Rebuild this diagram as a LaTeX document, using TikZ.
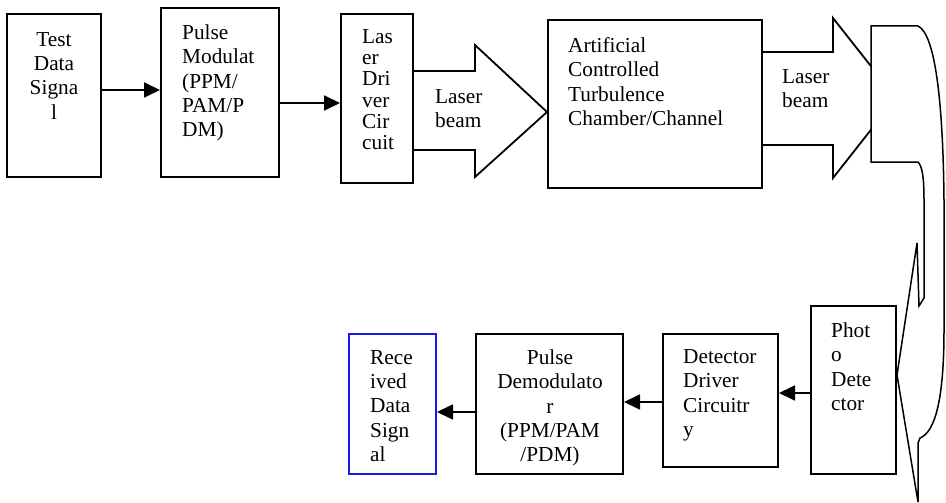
\documentclass[tikz,border=0pt]{standalone}
\usepackage{fontspec}
\setmainfont{Liberation Serif}
\usetikzlibrary{arrows.meta}
\definecolor{boxblue}{RGB}{25,25,235}
\begin{document}
\begin{tikzpicture}[x=1pt,y=-1pt,
  box/.style={draw=black,line width=2pt,inner sep=0pt,fill=white},
  txt/.style={inner sep=0pt,align=left,anchor=north west,font=\fontsize{21.3}{24.3}\selectfont},
  ctxt/.style={inner sep=0pt,align=center,anchor=north,font=\fontsize{21.3}{24.3}\selectfont},
  arr/.style={line width=1.8pt,-{Triangle[length=16pt,width=15pt]}},
  blockarrow/.style={draw=black,line width=1.8pt,fill=white,line join=miter},
  bentshape/.style={draw=black,line width=1.5pt,fill=white,line join=miter}]
\useasboundingbox (0,0) rectangle (946,503);
% top row boxes
\node[box,minimum width=94,minimum height=163] (b1) at (54,95.5) {};
\node[box,minimum width=118,minimum height=169] (b2) at (220,92.5) {};
\node[box,minimum width=72,minimum height=169] (b3) at (377,98.5) {};
\node[box,minimum width=214,minimum height=168] (b4) at (655,104) {};
% bottom row boxes
\node[box,minimum width=85,minimum height=168] (pd) at (853.5,390) {};
\node[box,minimum width=115,minimum height=133] (dd) at (720.5,400.5) {};
\node[box,minimum width=147,minimum height=140] (dm) at (549.5,404) {};
\node[box,draw=boxblue,minimum width=87,minimum height=140] (rx) at (392.5,404) {};
% block arrow 1
\draw[blockarrow] (b3.east |- 0,71) -- (475,71) -- (475,45) -- (b4.west |- 0,112)
  -- (475,177) -- (475,150) -- (b3.east |- 0,150);
% block arrow 2 (tip hidden under the bent arrow)
\draw[blockarrow] (b4.east |- 0,52) -- (833,52) -- (833,18) -- (896,98)
  -- (833,178) -- (833,145) -- (b4.east |- 0,145);
% bent arrow down to the photodetector
\draw[bentshape] (871,26) -- (918,26) .. controls (935,34) and (943,100) .. (944,200)
  -- (944,330) .. controls (944,400) and (935,432) .. (920,438) -- (918,443)
  -- (918,502) -- (897,375) -- (917,243) -- (919,306) -- (924,298)
  -- (924,200) .. controls (924,176) and (922,166) .. (918,162) -- (871,162) -- cycle;
% connectors
\draw[arr] (b1.east |- 0,90) -- (b2.west |- 0,90);
\draw[arr] (b2.east |- 0,103) -- (b3.west |- 0,103);
\draw[arr] (pd.west |- 0,393) -- (dd.east |- 0,393);
\draw[arr] (dd.west |- 0,402) -- (dm.east |- 0,402);
\draw[arr] (dm.west |- 0,412) -- (rx.east |- 0,412);
% texts
\node[ctxt] (t1) at (54,32) {Test\\Data\\Signa\\l};
\node[txt] (t2) at (182,24.5) {Pulse\\Modulat\\(PPM/\\PAM/P\\DM)};
\node[txt,font=\fontsize{21.3}{21.3}\selectfont] (t3) at (362,29) {Las\\er\\Dri\\ver\\Cir\\cuit};
\node[txt] (lb1) at (435,89) {Laser\\beam};
\node[txt] (t4) at (568,37.5) {Artificial\\Controlled\\Turbulence\\Chamber/Channel};
\node[txt] (lb2) at (782,69) {Laser\\beam};
\node[txt] (t5) at (831,322.5) {Phot\\o\\Dete\\ctor};
\node[txt] (t6) at (683,349.5) {Detector\\Driver\\Circuitr\\y};
\node[ctxt] (t7) at (550,349.5) {Pulse\\Demodulato\\r\\(PPM/PAM\\/PDM)};
\node[txt] (t8) at (370,350) {Rece\\ived\\Data\\Sign\\al};
\end{tikzpicture}
\end{document}
